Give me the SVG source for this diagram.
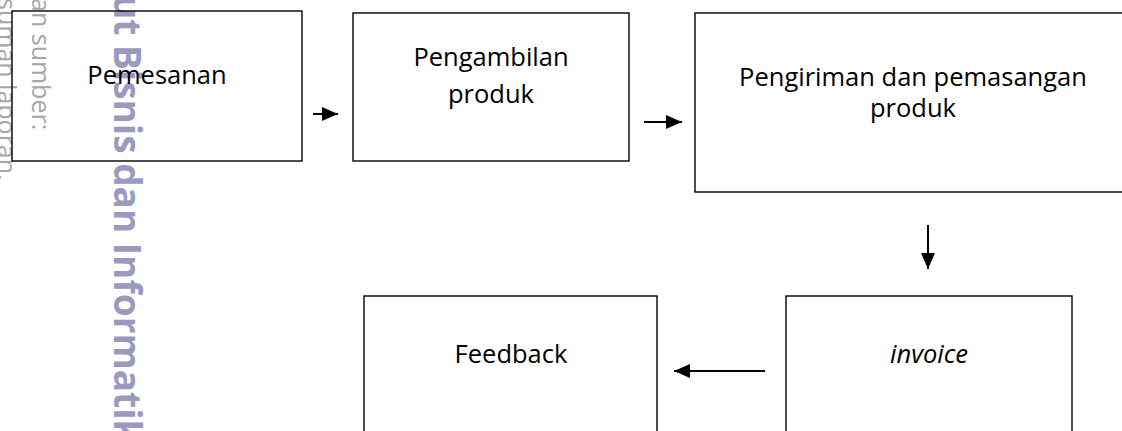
<svg xmlns="http://www.w3.org/2000/svg" width="1122" height="431" viewBox="0 0 1122 431">
<style>
.box{fill:none;stroke:#000;stroke-width:1.4}
.lbl{font-family:"Open Sans","Noto Sans",sans-serif;font-size:25.5px;fill:#000;text-anchor:middle}
.it{font-style:italic}
.wm1{font-family:"Open Sans","Noto Sans",sans-serif;font-size:25px;fill:#a6a6a6}
.wm2{font-family:"Open Sans","Noto Sans",sans-serif;font-size:37px;font-weight:bold;fill:#9a9abf}
.conn{stroke:#000;stroke-width:2;fill:none}
</style>
<defs>
<marker id="ah" markerUnits="userSpaceOnUse" markerWidth="16" markerHeight="14" refX="16" refY="7" orient="auto">
<path d="M0,0 L16,7 L0,14 z" fill="#000"/>
</marker>
</defs>
<rect width="1122" height="431" fill="#fff"/>
<g id="watermark">
<text class="wm1" transform="translate(32,-2) rotate(90)">an sumber:</text>
<text class="wm1" transform="translate(-2,-2) rotate(90)">suman laporan.</text>
<text class="wm2" transform="translate(114,-5) rotate(90)">ut Bisnis dan Informatik</text>
</g>
<g id="n1"><rect class="box" x="12" y="11" width="290" height="150"/><text class="lbl" x="157" y="84">Pemesanan</text></g>
<g id="n2"><rect class="box" x="353" y="13" width="276" height="148"/><text class="lbl" x="491" y="66">Pengambilan</text><text class="lbl" x="491" y="103">produk</text></g>
<g id="n3"><rect class="box" x="695" y="13" width="440" height="179"/><text class="lbl" x="913" y="86">Pengiriman dan pemasangan</text><text class="lbl" x="913" y="117">produk</text></g>
<g id="n4"><rect class="box" x="786" y="296" width="286" height="150"/><text class="lbl it" x="929" y="363">invoice</text></g>
<g id="n5"><rect class="box" x="364" y="296" width="293" height="150"/><text class="lbl" x="511" y="363">Feedback</text></g>
<g id="connectors">
<line class="conn" x1="313" y1="114" x2="338" y2="114" marker-end="url(#ah)"/>
<line class="conn" x1="644" y1="122" x2="682" y2="122" marker-end="url(#ah)"/>
<line class="conn" x1="928" y1="225" x2="928" y2="269" marker-end="url(#ah)"/>
<line class="conn" x1="765" y1="371" x2="674" y2="371" marker-end="url(#ah)"/>
</g>
</svg>
